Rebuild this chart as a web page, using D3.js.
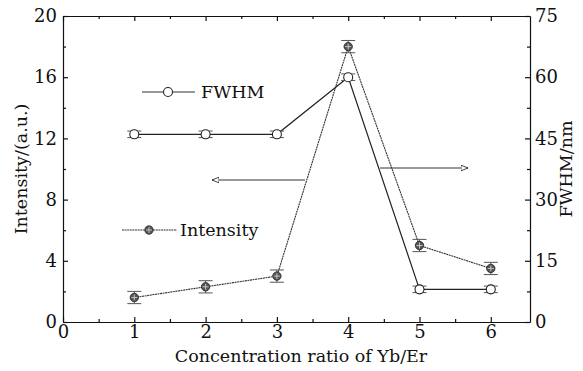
<!DOCTYPE html>
<html>
<head>
<meta charset="utf-8">
<script src="https://cdn.jsdelivr.net/npm/d3@7"></script>
<style>
  body { margin: 0; background: #fff; }
  svg { display: block; }
  text { font-family: "DejaVu Serif", "Liberation Serif", serif; fill: #111; }
</style>
</head>
<body>
<svg id="chart"></svg>
<script>
// data
var ratios = [1, 2, 3, 4, 5, 6];
var intensity = [1.6, 2.3, 3.0, 18.0, 5.0, 3.5];
var intensityErr = [0.4, 0.4, 0.4, 0.4, 0.4, 0.4];
var fwhm = [46, 46, 46, 60, 8, 8];
var fwhmErr = [0.8, 0.8, 0.8, 0.8, 0.8, 0.8];
var xTicks = [0, 1, 2, 3, 4, 5, 6];
var leftTicks = [0, 4, 8, 12, 16, 20];
var rightTicks = [0, 15, 30, 45, 60, 75];

var svgWidth = 583, svgHeight = 371;
var margin = { top: 16, right: 53, bottom: 49, left: 63 };
var width = svgWidth - margin.left - margin.right;
var height = svgHeight - margin.top - margin.bottom;

var svg = d3.select('#chart')
  .attr("width", svgWidth)
  .attr("height", svgHeight);

var g = svg.append("g")
  .attr("transform", "translate(" + margin.left + "," + margin.top + ")");

var x = d3.scaleLinear().domain([0, 6.55]).range([0, width]);
var yL = d3.scaleLinear().domain([0, 20]).range([height, 0]);
var yR = d3.scaleLinear().domain([0, 75]).range([height, 0]);

function styleAxis(sel) {
  sel.selectAll("path, line").attr("stroke", "#111").attr("stroke-width", 1.2);
  sel.selectAll("text").style("font-size", "18px").attr("fill", "#111");
}

// minor ticks
g.append("g").attr("transform", "translate(0," + height + ")")
  .call(d3.axisBottom(x).tickValues(d3.range(0.5, 6.5, 1)).tickSize(-3).tickFormat(""))
  .call(styleAxis).select(".domain").remove();
g.append("g")
  .call(d3.axisTop(x).tickValues(d3.range(0.5, 6.5, 1)).tickSize(-3).tickFormat(""))
  .call(styleAxis).select(".domain").remove();
g.append("g")
  .call(d3.axisLeft(yL).tickValues(d3.range(2, 20, 4)).tickSize(-3).tickFormat(""))
  .call(styleAxis).select(".domain").remove();
g.append("g").attr("transform", "translate(" + width + ",0)")
  .call(d3.axisRight(yR).tickValues(d3.range(7.5, 75, 15)).tickSize(-3).tickFormat(""))
  .call(styleAxis).select(".domain").remove();

// major ticks
g.append("g").attr("transform", "translate(0," + height + ")")
  .call(d3.axisBottom(x).tickValues(xTicks).tickSize(-5).tickPadding(3).tickSizeOuter(0).tickFormat(d3.format("d")))
  .call(styleAxis);
g.append("g")
  .call(d3.axisTop(x).tickValues(xTicks).tickSize(-5).tickFormat("").tickSizeOuter(0))
  .call(styleAxis);
g.append("g")
  .call(d3.axisLeft(yL).tickValues(leftTicks).tickSize(-5).tickPadding(6).tickSizeOuter(0))
  .call(styleAxis);
g.append("g").attr("transform", "translate(" + width + ",0)")
  .call(d3.axisRight(yR).tickValues(rightTicks).tickSize(-5).tickPadding(5).tickSizeOuter(0))
  .call(styleAxis);

// axis titles
svg.append("text")
  .attr("x", 301).attr("y", 362)
  .attr("text-anchor", "middle").style("font-size", "17.5px")
  .text("Concentration ratio of Yb/Er");
svg.append("text")
  .attr("transform", "translate(21," + (margin.top + height / 2) + ") rotate(-90)")
  .attr("text-anchor", "middle").attr("dy", "0.35em").style("font-size", "17.5px")
  .text("Intensity/(a.u.)");
svg.append("text")
  .attr("transform", "translate(566," + (margin.top + height / 2) + ") rotate(-90)")
  .attr("text-anchor", "middle").attr("dy", "0.35em").style("font-size", "17.5px")
  .text("FWHM/nm");

var lineL = d3.line().x(function (d, i) { return x(ratios[i]); }).y(function (d) { return yL(d); });
var lineR = d3.line().x(function (d, i) { return x(ratios[i]); }).y(function (d) { return yR(d); });

// intensity series
g.append("path").datum(intensity)
  .attr("fill", "none").attr("stroke", "#333").attr("stroke-width", 1.1)
  .attr("stroke-dasharray", "2,0.6")
  .attr("d", lineL);
// FWHM series
g.append("path").datum(fwhm)
  .attr("fill", "none").attr("stroke", "#222").attr("stroke-width", 1.2)
  .attr("d", lineR);

// error bars
function errBars(vals, errs, y) {
  var eb = g.append("g").attr("stroke", "#555").attr("stroke-width", 1);
  vals.forEach(function (v, i) {
    var cx = x(ratios[i]);
    eb.append("line").attr("x1", cx).attr("x2", cx).attr("y1", y(v - errs[i])).attr("y2", y(v + errs[i]));
    [v - errs[i], v + errs[i]].forEach(function (e) {
      eb.append("line").attr("x1", cx - 7).attr("x2", cx + 7).attr("y1", y(e)).attr("y2", y(e));
    });
  });
}
errBars(intensity, intensityErr, yL);
errBars(fwhm, fwhmErr, yR);

function starMarker(sel, cx, cy) {
  sel.append("circle").attr("cx", cx).attr("cy", cy).attr("r", 4.2)
    .attr("fill", "#555").attr("stroke", "#222").attr("stroke-width", 0.8);
  sel.append("line").attr("x1", cx - 3).attr("x2", cx + 3).attr("y1", cy).attr("y2", cy)
    .attr("stroke", "#ddd").attr("stroke-width", 0.8);
  sel.append("line").attr("x1", cx).attr("x2", cx).attr("y1", cy - 3).attr("y2", cy + 3)
    .attr("stroke", "#ddd").attr("stroke-width", 0.8);
}
function openMarker(sel, cx, cy) {
  sel.append("circle").attr("cx", cx).attr("cy", cy).attr("r", 4.5)
    .attr("fill", "#fff").attr("stroke", "#222").attr("stroke-width", 1.1);
}

var marks = g.append("g");
intensity.forEach(function (v, i) { starMarker(marks, x(ratios[i]), yL(v)); });
fwhm.forEach(function (v, i) { openMarker(marks, x(ratios[i]), yR(v)); });

// legend
var leg = svg.append("g");
leg.append("line").attr("x1", 142).attr("x2", 195).attr("y1", 92).attr("y2", 92)
  .attr("stroke", "#333").attr("stroke-width", 1);
openMarker(leg, 168, 92);
leg.append("text").attr("x", 201).attr("y", 92).attr("dy", "0.35em")
  .style("font-size", "17.5px").text("FWHM");
leg.append("line").attr("x1", 122).attr("x2", 177).attr("y1", 230).attr("y2", 230)
  .attr("stroke", "#333").attr("stroke-width", 1).attr("stroke-dasharray", "2,0.6");
starMarker(leg, 149, 230);
leg.append("text").attr("x", 180).attr("y", 230).attr("dy", "0.35em")
  .style("font-size", "17.5px").text("Intensity");

// axis arrows
svg.append("defs").append("marker")
  .attr("id", "arrow").attr("viewBox", "0 0 10 10").attr("refX", 10).attr("refY", 5)
  .attr("markerWidth", 7).attr("markerHeight", 7).attr("orient", "auto-start-reverse")
  .append("path").attr("d", "M0,1 L10,5 L0,9 Z").attr("fill", "#fff").attr("stroke", "#222").attr("stroke-width", 1.2);
svg.append("line").attr("x1", 305).attr("x2", 212).attr("y1", 180).attr("y2", 180)
  .attr("stroke", "#333").attr("stroke-width", 1).attr("marker-end", "url(#arrow)");
svg.append("line").attr("x1", 380).attr("x2", 468).attr("y1", 168).attr("y2", 168)
  .attr("stroke", "#333").attr("stroke-width", 1).attr("marker-end", "url(#arrow)");
</script>
</body>
</html>
